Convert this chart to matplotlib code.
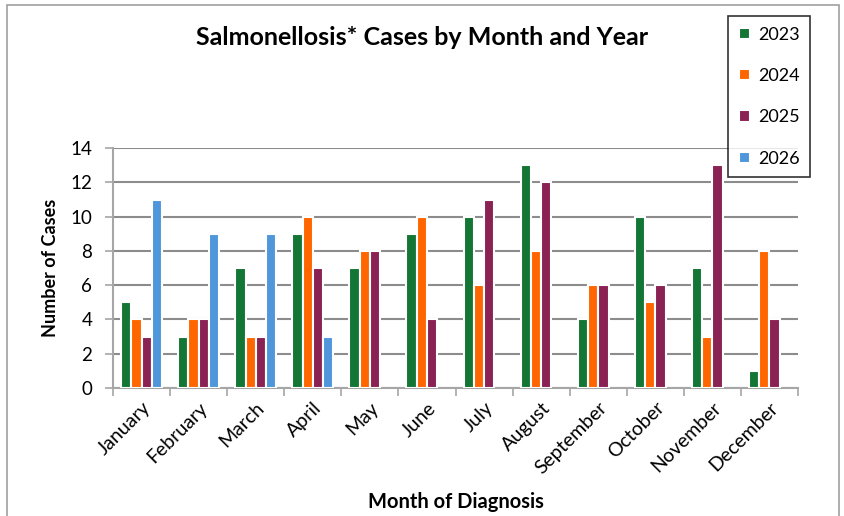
import matplotlib.pyplot as plt
import numpy as np
from matplotlib.patches import Rectangle

months = ["January", "February", "March", "April", "May", "June", "July",
          "August", "September", "October", "November", "December"]
years = ["2023", "2024", "2025", "2026"]
cases_2023 = [5, 3, 7, 9, 7, 9, 10, 13, 4, 10, 7, 1]
cases_2024 = [4, 4, 3, 10, 8, 10, 6, 8, 6, 5, 3, 8]
cases_2025 = [3, 4, 3, 7, 8, 4, 11, 12, 6, 6, 13, 4]
cases_2026 = [11, 9, 9, 3]
colores = ["#137634", "#FF6600", "#8A2253", "#4F97DA"]

plt.rcParams['font.family'] = ['Lato', 'DejaVu Sans']

fig = plt.figure(figsize=(8.44, 5.16), dpi=100)
ax = fig.add_axes([0.134, 0.248, 0.8115, 0.465])

# marco exterior del gráfico
fig.patches.append(Rectangle((0.008, -0.01), 0.986, 1.0, transform=fig.transFigure,
                             fill=False, edgecolor="#a0a0a0", linewidth=1.2))

ancho = 0.18
series = [cases_2023, cases_2024, cases_2025, cases_2026]
for i, (serie, anio) in enumerate(zip(series, years)):
    x = np.arange(len(serie)) + (i - 1.5) * ancho
    ax.bar(x, serie, width=ancho, color=colores[i], edgecolor="white",
           linewidth=1.5, label=anio, zorder=3)

ax.set_xlim(-0.5, 11.5)
ax.set_ylim(0, 14)
ax.set_yticks(range(0, 15, 2))
ax.tick_params(axis='y', labelsize=13.5, length=6, color="#a6a6a6", width=1.2, pad=9)
ax.set_xticks(np.arange(12))
ax.set_xticklabels(months, rotation=45, ha='right', rotation_mode='anchor', fontsize=14)
ax.tick_params(axis='x', length=0, pad=8)
# marcas entre categorías
ax.set_xticks(np.arange(-0.5, 12, 1), minor=True)
ax.tick_params(axis='x', which='minor', length=6, color="#a6a6a6", width=1.2)

ax.grid(axis='y', color="#8c8c8c", linewidth=1.5, zorder=0)
ax.set_axisbelow(True)
for lado in ['top', 'right']:
    ax.spines[lado].set_visible(False)
for lado in ['left', 'bottom']:
    ax.spines[lado].set_color("#a6a6a6")
    ax.spines[lado].set_linewidth(1.5)

ax.set_ylabel("Number of Cases", fontsize=13, fontweight='bold', labelpad=8)
ax.set_xlabel("Month of Diagnosis", fontsize=14.5, fontweight='bold', labelpad=11)
fig.text(0.500, 0.928, "Salmonellosis* Cases by Month and Year", ha='center', va='center',
         fontsize=18, fontweight='bold')

leg = fig.legend(loc='upper left', bbox_to_anchor=(0.8626, 0.969), fontsize=13,
                 frameon=True, fancybox=False, edgecolor="black", handlelength=0.6,
                 handleheight=0.6, labelspacing=1.4, borderpad=0.6, handletextpad=0.45,
                 borderaxespad=0)
leg.get_frame().set_linewidth(1.2)

plt.savefig("out.png", dpi=100)
